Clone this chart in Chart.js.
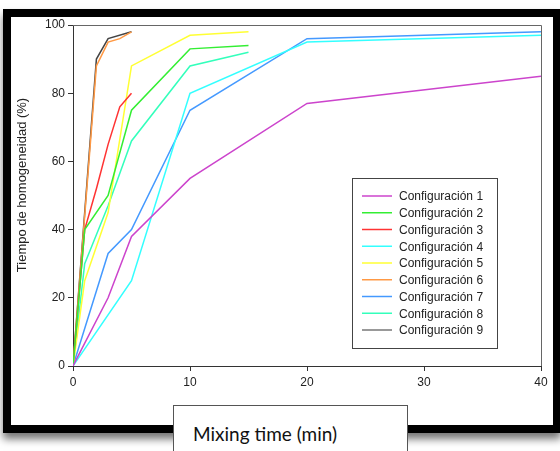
<!DOCTYPE html>
<html>
<head>
<meta charset="utf-8">
<script src="https://cdn.jsdelivr.net/npm/chart.js@4"></script>
<style>
  body { margin: 0; background: #fff; }
  #wrap { position: relative; width: 560px; height: 451px; overflow: hidden; }
  #frame { position: absolute; left: 3px; top: 9px; width: 542px; height: 408px; border: 8px solid #000; box-shadow: 0 6px 8px rgba(0,0,0,0.55); background: #fff; }
  #line_chart { position: absolute; left: 0; top: 0; }
  #xbox { position: absolute; left: 173px; top: 405px; width: 233px; height: 60px; border: 1px solid #555; background: #fff; }
  #xbox span { position: absolute; left: 19px; top: 16px; font: 19px Lato, "Open Sans", sans-serif; color: #111; }
</style>
</head>
<body>
<div id="wrap">
  <div id="frame"></div>
  <canvas id="line_chart" width="560" height="451"></canvas>
  <div id="xbox"><span>Mixing time (min)</span></div>
</div>
<script>
const ctx = document.querySelector('#line_chart')

const labels = ["Configuración 1", "Configuración 2", "Configuración 3", "Configuración 4", "Configuración 5", "Configuración 6", "Configuración 7", "Configuración 8", "Configuración 9"];
const colors = ['#cc44cc', '#33ee33', '#ff3333', '#33ffff', '#ffff33', '#ff9944', '#4499ff', '#33ffbb', '#444444'];

const c1X = [0, 3, 5, 10, 20, 40];
const c1Y = [0, 20, 38, 55, 77, 85];
const c2X = [0, 1, 3, 5, 10, 15];
const c2Y = [0, 40, 50, 75, 93, 94];
const c3X = [0, 1, 2, 3, 4, 5];
const c3Y = [0, 40, 52, 65, 76, 80];
const c4X = [0, 5, 10, 20, 40];
const c4Y = [0, 25, 80, 95, 97];
const c5X = [0, 1, 3, 5, 10, 15];
const c5Y = [0, 25, 45, 88, 97, 98];
const c6X = [0, 2, 3, 4, 5];
const c6Y = [0, 88, 95, 96, 98];
const c7X = [0, 3, 5, 10, 20, 40];
const c7Y = [0, 33, 40, 75, 96, 98];
const c8X = [0, 1, 3, 5, 10, 15];
const c8Y = [0, 30, 47, 66, 88, 92];
const c9X = [0, 2, 3, 5];
const c9Y = [0, 90, 96, 98];

const xs = [c1X, c2X, c3X, c4X, c5X, c6X, c7X, c8X, c9X];
const ys = [c1Y, c2Y, c3Y, c4Y, c5Y, c6Y, c7Y, c8Y, c9Y];

const xTicks = [0, 10, 20, 30, 40];
const yTicks = [0, 20, 40, 60, 80, 100];
const yTitle = 'Tiempo de homogeneidad (%)';

const datasets = labels.map((name, i) => ({
    label: name,
    data: xs[i].map((x, j) => ({ x: x, y: ys[i][j] })),
    borderColor: colors[i],
    backgroundColor: 'transparent',
    borderWidth: 1.5,
    pointRadius: 0,
    tension: 0
}))

// plot box, y title and legend drawn by hand
const boxPlugin = {
    id: 'boxPlugin',
    afterDraw(chart) {
        const c = chart.ctx
        const a = chart.chartArea
        c.save()
        c.strokeStyle = '#666'
        c.lineWidth = 1
        c.beginPath()
        c.moveTo(a.left, a.top + 0.5)
        c.lineTo(a.right + 0.5, a.top + 0.5)
        c.lineTo(a.right + 0.5, a.bottom)
        c.stroke()

        // y title (sits a bit above the middle in the original)
        c.save()
        c.translate(22, 185)
        c.rotate(-Math.PI / 2)
        c.font = '13px "Liberation Sans", Arial, sans-serif'
        c.fillStyle = '#222'
        c.textAlign = 'center'
        c.textBaseline = 'middle'
        c.fillText(yTitle, 0, 0)
        c.restore()

        // legend
        c.fillStyle = '#fff'
        c.fillRect(352.5, 178.5, 145, 170)
        c.strokeStyle = '#444'
        c.strokeRect(352.5, 178.5, 145, 170)
        c.font = '12px "Liberation Sans", Arial, sans-serif'
        c.textBaseline = 'middle'
        chart.data.datasets.forEach((ds, i) => {
            const y = 196 + i * 16.75
            c.strokeStyle = i === 8 ? '#777' : ds.borderColor
            c.lineWidth = 1.5
            c.beginPath()
            c.moveTo(362, y)
            c.lineTo(392, y)
            c.stroke()
            c.fillStyle = '#222'
            c.fillText(ds.label, 399, y + 1)
        })
        c.restore()
    }
}

new Chart(ctx, {
    type: 'line',
    data: { datasets: datasets },
    options: {
        responsive: false,
        animation: false,
        layout: { padding: { left: 11, top: 25, right: 19, bottom: 55 } },
        plugins: {
            legend: { display: false },
            tooltip: { enabled: false }
        },
        scales: {
            x: {
                type: 'linear',
                min: 0,
                max: 40,
                afterBuildTicks: s => { s.ticks = xTicks.map(v => ({ value: v })) },
                afterFit: s => { s.height = 30 },
                grid: { drawOnChartArea: false, tickLength: 5, color: '#333' },
                border: { color: '#333', width: 1 },
                ticks: { color: '#222', padding: 4, font: { size: 12, family: '"Liberation Sans", Arial' } }
            },
            y: {
                min: 0,
                max: 100,
                afterBuildTicks: s => { s.ticks = yTicks.map(v => ({ value: v })) },
                afterFit: s => { s.width = 62 },
                grid: { drawOnChartArea: false, tickLength: 5, color: '#333' },
                border: { color: '#333', width: 1 },
                ticks: { color: '#222', padding: 3, font: { size: 12, family: '"Liberation Sans", Arial' } }
            }
        }
    },
    plugins: [boxPlugin]
})
</script>
</body>
</html>
